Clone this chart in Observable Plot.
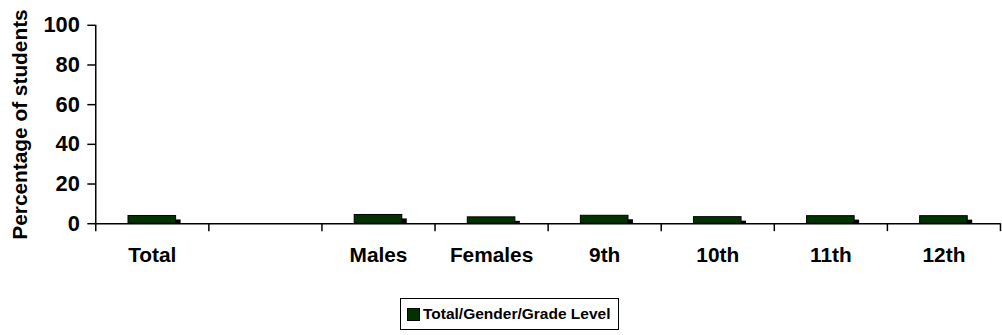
<!DOCTYPE html>
<html>
<head>
<meta charset="utf-8">
<script src="https://cdn.jsdelivr.net/npm/d3@7"></script>
<script src="https://cdn.jsdelivr.net/npm/@observablehq/plot@0.6"></script>
<style>
  html, body { margin: 0; padding: 0; background: #fff; overflow: hidden; width: 1002px; height: 335px; }
  #chart { position: absolute; left: 0; top: 0; }
  #legend {
    position: absolute; left: 400px; top: 298px; width: 219px; height: 32px;
    border: 1px solid #000; box-sizing: border-box; white-space: nowrap;
    font-family: "Liberation Sans", Arial, sans-serif; font-weight: bold; font-size: 15.5px;
    display: flex; align-items: center; padding-left: 6px; color: #000;
  }
  #legend .sw { width: 11px; height: 11px; background: #003300; border: 1px solid #000; margin-right: 3px; flex: none; }
</style>
</head>
<body>
<div id="chart"></div>
<div id="legend"><span class="sw"></span><span>Total/Gender/Grade Level</span></div>
<script>
const categories = ["Total", "", "Males", "Females", "9th", "10th", "11th", "12th"];
const values = [3.9, null, 4.4, 3.2, 4.0, 3.3, 3.8, 3.8];
const yTicks = [0, 20, 40, 60, 80, 100];
const seriesName = "Total/Gender/Grade Level";

const data = categories.map((c, i) => ({i, c, v: values[i]})).filter(d => d.v != null);
const barColor = "#003300";

const chart = Plot.plot({
  width: 1010,
  height: 290,
  marginLeft: 96,
  marginRight: 2,
  marginTop: 25,
  marginBottom: 65,
  style: {fontFamily: "'Liberation Sans', Arial, sans-serif", fontWeight: "bold", fontSize: "21px", color: "#000", background: "#fff"},
  x: {type: "linear", domain: [0, categories.length]},
  y: {domain: [0, 100]},
  marks: [
    Plot.axisY({ticks: yTicks, tickSize: 8, tickPadding: 8, strokeWidth: 1.5, fontSize: 22,
      label: null}),
    Plot.axisY({ticks: [], tickSize: 0, fontSize: 21,
      label: "Percentage of students", labelAnchor: "center", labelArrow: "none", labelOffset: 84}),
    Plot.axisX({ticks: d3.range(0, categories.length + 1), tickSize: 8, tickFormat: () => "", strokeWidth: 1.5, label: null}),
    Plot.axisX({ticks: categories.map((c, i) => i + 0.5), tickSize: 0, tickPadding: 24, fontSize: 21,
      tickFormat: (t) => categories[Math.floor(t)], label: null}),
    Plot.rectY(data, {x1: d => d.i, x2: d => d.i + 1, y: "v", insetLeft: 38, insetRight: 28, insetTop: 4, fill: "#000"}),
    Plot.rectY(data, {x1: d => d.i, x2: d => d.i + 1, y: "v", insetLeft: 33, insetRight: 33, fill: barColor, stroke: "#000", strokeWidth: 1}),
    Plot.ruleX([0], {strokeWidth: 1.5}),
    Plot.ruleY([0], {strokeWidth: 1.5})
  ]
});
document.getElementById("chart").appendChild(chart);
</script>
</body>
</html>
